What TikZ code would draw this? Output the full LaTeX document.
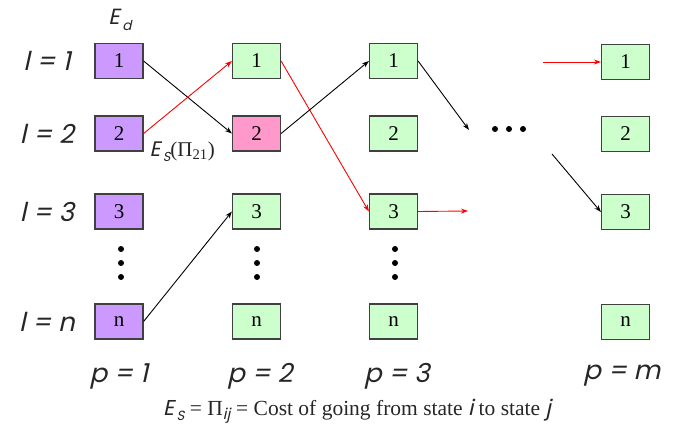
\documentclass[tikz,border=0pt]{standalone}
\usepackage{fontspec}
\setmainfont{Liberation Serif}
\newfontfamily\gothic{Poppins}[FakeSlant=0.22]
\usetikzlibrary{arrows.meta}
\definecolor{purp}{HTML}{CC99FF}
\definecolor{grn}{HTML}{CCFFCC}
\definecolor{pnk}{HTML}{FF99CC}
\definecolor{edgec}{HTML}{404040}
\definecolor{txtc}{HTML}{262626}
\newcommand{\gi}[1]{{\gothic #1}}
\newcommand{\lowsub}[1]{\kern2.5pt\raisebox{-0.45ex}{\fontsize{0.62em}{0.62em}\selectfont #1}}
\begin{document}
\begin{tikzpicture}[x=1pt,y=-1pt,
  box/.style={draw=edgec,line width=1.2pt,minimum width=48pt,minimum height=35pt,inner sep=0pt,font=\fontsize{21}{21}\selectfont},
  pb/.style={box,fill=purp},
  gb/.style={box,fill=grn},
  kb/.style={box,fill=pnk},
  lab/.style={font=\fontsize{26}{26}\selectfont\gothic,text=txtc},
  vdots/.style={fill=black,circle,inner sep=0pt,minimum size=6pt},
  conn/.style={line width=0.9pt,-{Stealth[length=7pt,width=5pt]}},
  bk/.style={conn,black},
  rd/.style={conn,red}]
\useasboundingbox (0,0) rectangle (674,433);
% column 1
\node[pb] (a1) at (119,61) {1};
\node[pb] (a2) at (119,133.5) {2};
\node[pb] (a3) at (119,211.5) {3};
\node[pb] (an) at (119,321.5) {n};
% column 2
\node[gb] (b1) at (256.5,61) {1};
\node[kb] (b2) at (256.5,133.5) {2};
\node[gb] (b3) at (256.5,211.5) {3};
\node[gb] (bn) at (256.5,321.5) {n};
% column 3
\node[gb] (c1) at (393.5,61) {1};
\node[gb] (c2) at (393.5,133.5) {2};
\node[gb] (c3) at (393.5,211.5) {3};
\node[gb] (cn) at (393.5,321.5) {n};
% column m
\node[gb] (m1) at (625.5,62) {1};
\node[gb] (m2) at (625.5,134) {2};
\node[gb] (m3) at (625.5,212) {3};
\node[gb] (mn) at (625.5,322) {n};
% vertical dots
\foreach \x/\n in {121/a,257/b,395/c}{
  \node[vdots] (\n d1) at (\x,249) {};
  \node[vdots] (\n d2) at (\x,263) {};
  \node[vdots] (\n d3) at (\x,277) {};
}
% horizontal dots
\node[vdots] (h1) at (495,129) {};
\node[vdots] (h2) at (509,129) {};
\node[vdots] (h3) at (523,129) {};
% row labels
\node[lab] (l1) at (47,61) {l = 1};
\node[lab] (l2) at (47,133.5) {l = 2};
\node[lab] (l3) at (47,211.5) {l = 3};
\node[lab] (ln) at (47,321.5) {l = n};
% column labels
\node[lab] (p1) at (119,376) {p = 1};
\node[lab] (p2) at (260,376) {p = 2};
\node[lab] (p3) at (397,376) {p = 3};
\node[lab] (pm) at (622,376) {p = m};
% E labels
\node[font=\fontsize{22}{22}\selectfont,text=txtc] (ed) at (120,20) {\gi{E\lowsub{d}}};
\node[font=\fontsize{21}{21}\selectfont,text=txtc,anchor=west] (es) at (146,152) {\gi{E\lowsub{S}}(Π\textsubscript{21})};
% caption
\node[font=\fontsize{21.5}{21.5}\selectfont,text=txtc] (cap) at (357,411) {\gi{E\lowsub{S}} = Π\textsubscript{\gi{ij}} = Cost of going from state \gi{i} to state \gi{j}};
% coordinates for free ends
\coordinate (f1) at (469,130);
\coordinate (f2) at (468,211);
\coordinate (g1) at (543,62);
\coordinate (g2) at (552,154);
% connectors
\draw[bk] (a1.east) -- (b2.west);
\draw[rd] (a2.east) -- (b1.west);
\draw[bk] (an.east) -- (b3.west);
\draw[rd] (b1.east) -- (c3.west);
\draw[bk] (b2.east) -- (c1.west);
\draw[bk] (c1.east) -- (f1);
\draw[rd] (c3.east) -- (f2);
\draw[rd] (g1) -- (m1.west);
\draw[bk] (g2) -- (m3.west);
\end{tikzpicture}
\end{document}
